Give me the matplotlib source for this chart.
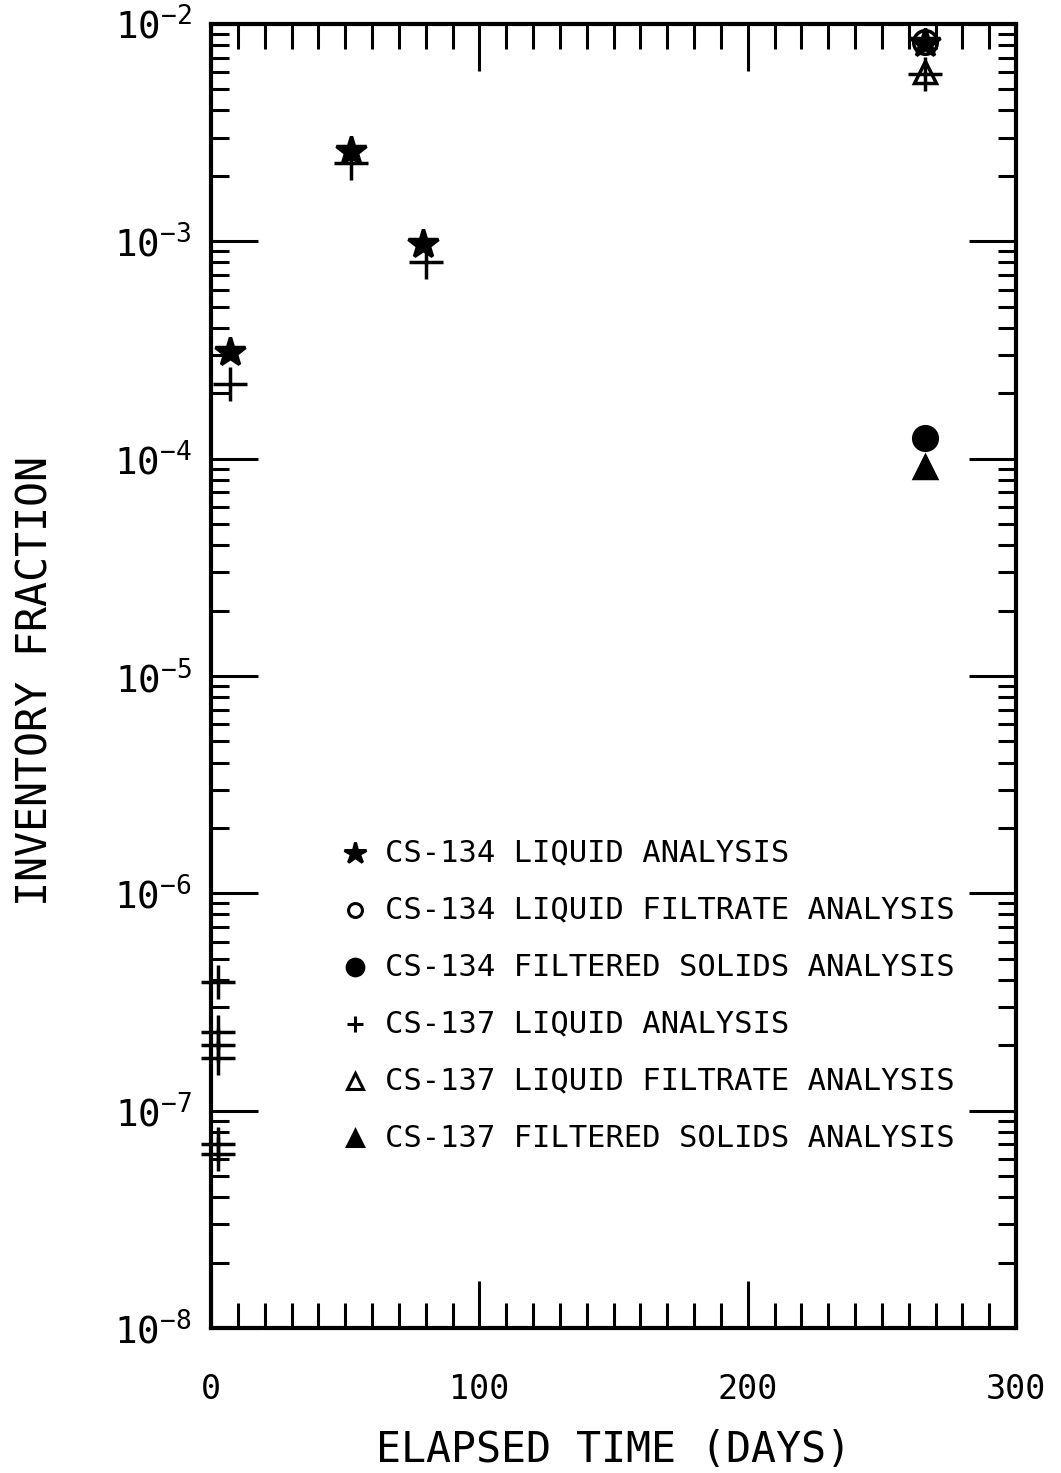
import numpy as np
import matplotlib.pyplot as plt
from matplotlib.ticker import MultipleLocator, LogLocator, NullFormatter

# Cesium inventory fractions vs elapsed time
cs134_liq_days = [7, 52, 79, 266]
cs134_liq_frac = [3.1e-4, 2.6e-3, 9.7e-4, 8.2e-3]

cs134_filt_days = [266]
cs134_filt_frac = [8.3e-3]

cs134_sol_days = [266]
cs134_sol_frac = [1.24e-4]

cs137_liq_days = [2.5, 2.5, 2.5, 2.5, 2.5, 2.5, 7, 52, 80, 266]
cs137_liq_frac = [3.9e-7, 2.3e-7, 2.0e-7, 1.75e-7, 7.0e-8, 6.3e-8,
                  2.2e-4, 2.3e-3, 8.0e-4, 5.9e-3]

cs137_filt_days = [266]
cs137_filt_frac = [6.0e-3]

cs137_sol_days = [266]
cs137_sol_frac = [9.2e-5]

legend_labels = ['CS-134 LIQUID ANALYSIS',
                 'CS-134 LIQUID FILTRATE ANALYSIS',
                 'CS-134 FILTERED SOLIDS ANALYSIS',
                 'CS-137 LIQUID ANALYSIS',
                 'CS-137 LIQUID FILTRATE ANALYSIS',
                 'CS-137 FILTERED SOLIDS ANALYSIS']

y_exponents = [-8, -7, -6, -5, -4, -3, -2]
x_ticks = [0, 100, 200, 300]

FONT = 'DejaVu Sans Mono'
plt.rcParams['font.family'] = FONT
plt.rcParams['mathtext.fontset'] = 'custom'
plt.rcParams['mathtext.rm'] = FONT

fig = plt.figure(figsize=(10.61, 14.73), dpi=100)
ax = fig.add_axes([0.1989, 0.0984, 0.7587, 0.8853])

# marker styles: (marker, size, filled)
styles = [('*', 22, True), ('o', 17, False), ('o', 17, True),
          ('+', 24, False), ('^', 16, False), ('^', 16, True)]
series = [(cs134_liq_days, cs134_liq_frac), (cs134_filt_days, cs134_filt_frac),
          (cs134_sol_days, cs134_sol_frac), (cs137_liq_days, cs137_liq_frac),
          (cs137_filt_days, cs137_filt_frac), (cs137_sol_days, cs137_sol_frac)]

for (xd, yd), (mk, ms, filled) in zip(series, styles):
    ax.plot(xd, yd, linestyle='none', marker=mk, markersize=ms,
            markerfacecolor='black' if filled else 'none',
            markeredgecolor='black', markeredgewidth=2.5, clip_on=False)

ax.set_yscale('log')
ax.set_xlim(0, 300)
ax.set_ylim(1e-8, 1e-2)

ax.set_xticks(x_ticks)
ax.set_xticklabels([str(v) for v in x_ticks])
ax.xaxis.set_minor_locator(MultipleLocator(10))

ax.set_yticks([10.0 ** e for e in y_exponents])
ax.set_yticklabels([r'$\mathregular{10^{%d}}$' % e for e in y_exponents])
ax.yaxis.set_minor_locator(LogLocator(base=10, subs=np.arange(2, 10), numticks=20))
ax.yaxis.set_minor_formatter(NullFormatter())

ax.tick_params(which='both', direction='in', top=True, right=True, width=2.2)
ax.tick_params(which='major', length=34)
ax.tick_params(axis='x', which='major', pad=32, labelsize=24)
ax.tick_params(axis='y', which='major', pad=14, labelsize=27)
ax.tick_params(which='minor', length=13)
ax.tick_params(axis='x', which='minor', length=18)

for sp in ax.spines.values():
    sp.set_linewidth(3)

# axis titles placed directly in figure coordinates
fig.text(0.578, 0.0156, 'ELAPSED TIME (DAYS)', fontsize=30,
         ha='center', va='center')
fig.text(0.033, 0.538, 'INVENTORY FRACTION', fontsize=30,
         ha='center', va='center', rotation=90)

# legend drawn as marker + text rows inside the axes
leg_marker_x = 0.179
leg_text_x = 0.216
leg_top = 0.364
leg_step = 0.0437
leg_sizes = [16, 10, 12, 12, 11, 12]
for i, ((mk, ms, filled), label) in enumerate(zip(styles, legend_labels)):
    yy = leg_top - i * leg_step
    ax.plot([leg_marker_x], [yy], transform=ax.transAxes, linestyle='none',
            marker=mk, markersize=leg_sizes[i],
            markerfacecolor='black' if filled else 'none',
            markeredgecolor='black', markeredgewidth=2.2, clip_on=False)
    ax.text(leg_text_x, yy, label, transform=ax.transAxes, fontsize=22,
            va='center', ha='left')

fig.savefig('out.png', dpi=100)
